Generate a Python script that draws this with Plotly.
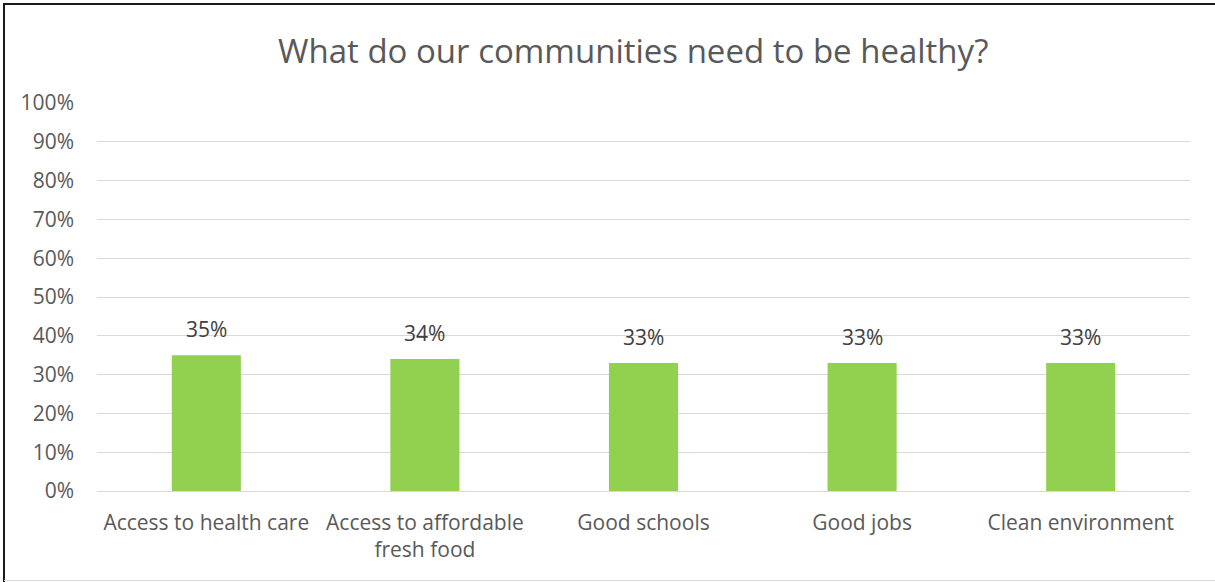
import plotly.graph_objects as go

categories = ["Access to health care", "Access to affordable<br>fresh food",
              "Good schools", "Good jobs", "Clean environment"]
values = [0.35, 0.34, 0.33, 0.33, 0.33]
y_ticks = [i / 10 for i in range(11)]
y_tick_labels = [f"{i * 10}%" for i in range(11)]

W, H = 1215, 582
ML, MR, MT, MB = 97, 25, 103, 91
PW, PH = W - ML - MR, H - MT - MB

def px_x(px):
    return (px - ML) / PW

def px_y(py):
    return (H - MB - py) / PH

FONT = "Open Sans"
TXT = "#595959"

fig = go.Figure(go.Bar(
    x=categories, y=values,
    marker=dict(color="#92D050", line=dict(width=0)),
    hoverinfo="skip",
))

annotations = [
    dict(x=c, y=v, text=f"{round(v * 100)}%", xref="x", yref="y",
         showarrow=False, yanchor="bottom", yshift=10,
         font=dict(family=FONT, size=21, color="#404040"))
    for c, v in zip(categories, values)
]
annotations.append(dict(
    text="What do our communities need to be healthy?",
    xref="paper", yref="paper", x=px_x(633), y=px_y(50),
    xanchor="center", yanchor="middle", showarrow=False,
    font=dict(family=FONT, size=33, color=TXT)))

# outer frame of the chart
shapes = [
    dict(type="line", xref="paper", yref="paper",
         x0=px_x(4), x1=px_x(4), y0=px_y(3), y1=px_y(582),
         line=dict(color="#1a1a1a", width=2)),
    dict(type="line", xref="paper", yref="paper",
         x0=px_x(3), x1=px_x(1215), y0=px_y(4), y1=px_y(4),
         line=dict(color="#1a1a1a", width=2)),
    dict(type="line", xref="paper", yref="paper",
         x0=px_x(4), x1=px_x(1215), y0=px_y(580.5), y1=px_y(580.5),
         line=dict(color="#d9d9d9", width=1)),
]

fig.update_layout(
    width=W, height=H,
    margin=dict(l=ML, r=MR, t=MT, b=MB, pad=0),
    paper_bgcolor="white", plot_bgcolor="white",
    bargap=0.684, showlegend=False,
    annotations=annotations, shapes=shapes,
    font=dict(family=FONT, color=TXT),
)
fig.update_xaxes(
    showgrid=False, showline=False, ticks="",
    tickfont=dict(family=FONT, size=21, color=TXT),
    ticklabelstandoff=17,
)
fig.update_yaxes(
    range=[0, 1], tickvals=y_ticks, ticktext=y_tick_labels,
    showgrid=True, gridcolor="#d9d9d9", gridwidth=1,
    zeroline=True, zerolinecolor="#d9d9d9", zerolinewidth=1,
    showline=False, ticks="",
    tickfont=dict(family=FONT, size=21, color=TXT),
    ticklabelstandoff=22,
)

fig.write_html("out.html", config=dict(displayModeBar=False))
